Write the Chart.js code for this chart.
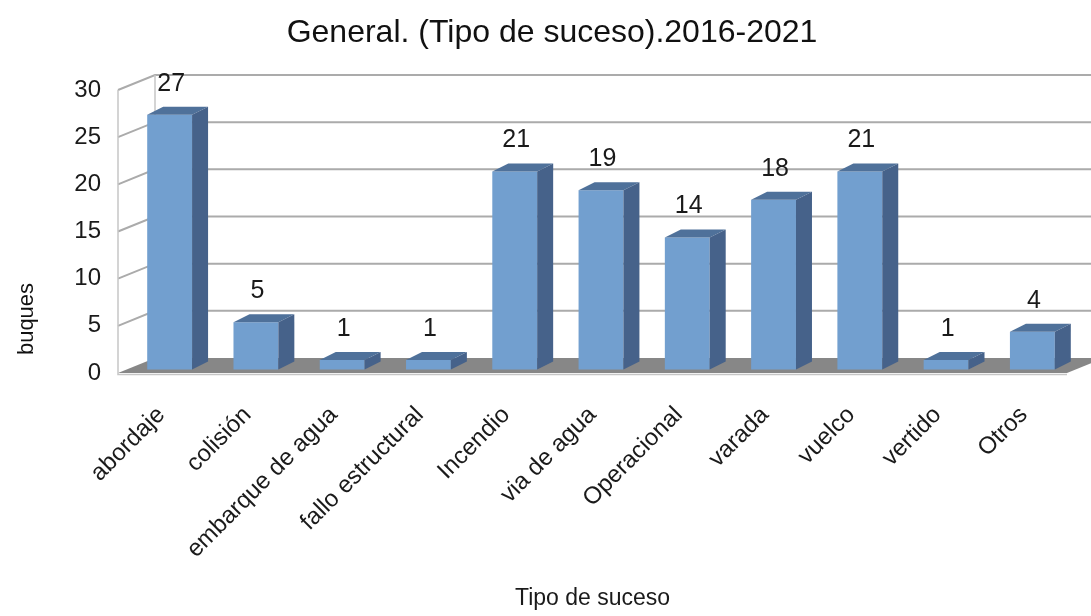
<!DOCTYPE html>
<html lang="es">
<head>
  <meta charset="UTF-8" />
  <meta name="viewport" content="width=device-width, initial-scale=1.0" />
  <script src="https://cdn.jsdelivr.net/npm/chart.js"></script>
  <title>General. (Tipo de suceso).2016-2021</title>
  <style>
    html, body { margin: 0; padding: 0; background: #fff; }
    #wrap { width: 1091px; height: 616px; }
  </style>
</head>

<body>
  <div id="wrap">
    <canvas id="sucesosChart" width="1091" height="616"></canvas>
  </div>

  <script>
    // Datos
    const tipos = ["abordaje", "colisión", "embarque de agua", "fallo estructural", "Incendio",
      "via de agua", "Operacional", "varada", "vuelco", "vertido", "Otros"];
    const buques = [27, 5, 1, 1, 21, 19, 14, 18, 21, 1, 4];
    const ejeMin = 0;
    const ejeMax = 30;
    const ejePaso = 5;
    const titulo = "General. (Tipo de suceso).2016-2021";
    const tituloY = "buques";
    const tituloX = "Tipo de suceso";

    // Profundidad del efecto 3D
    const FONDO = { dx: 37, dy: -15 };   // pared trasera respecto al plano frontal
    const BARRA = { dx: 8.5, dy: -3.5 }; // cara frontal de las barras
    const LADO = { dx: 16, dy: -8 };     // grosor de cada barra

    const FUENTE = "'Liberation Sans', Arial, sans-serif";
    Chart.defaults.font.family = FUENTE;
    Chart.defaults.color = "#1a1a1a";

    function poligono(ctx, pts) {
      ctx.beginPath();
      ctx.moveTo(pts[0][0], pts[0][1]);
      for (let i = 1; i < pts.length; i++) ctx.lineTo(pts[i][0], pts[i][1]);
      ctx.closePath();
      ctx.fill();
    }

    const escena3d = {
      id: "escena3d",
      beforeDatasetsDraw(chart) {
        const { ctx, chartArea: a, scales: { y } } = chart;
        const yTop = y.getPixelForValue(ejeMax);

        ctx.save();
        // suelo
        ctx.fillStyle = "#878787";
        poligono(ctx, [
          [a.left, a.bottom], [a.right, a.bottom],
          [a.right + FONDO.dx, a.bottom + FONDO.dy], [a.left + FONDO.dx, a.bottom + FONDO.dy]
        ]);

        // rejilla: pared izquierda + pared trasera
        ctx.strokeStyle = "#ababab";
        ctx.lineWidth = 2;
        for (let v = ejeMin + ejePaso; v <= ejeMax; v += ejePaso) {
          const py = y.getPixelForValue(v);
          ctx.beginPath();
          ctx.moveTo(a.left, py);
          ctx.lineTo(a.left + FONDO.dx, py + FONDO.dy);
          ctx.lineTo(chart.width, py + FONDO.dy);
          ctx.stroke();
        }

        // aristas verticales y borde frontal
        ctx.strokeStyle = "#c6c6c6";
        ctx.lineWidth = 1.5;
        ctx.beginPath();
        ctx.moveTo(a.left, yTop);
        ctx.lineTo(a.left, a.bottom + 1.5);
        ctx.lineTo(a.right, a.bottom + 1.5);
        ctx.moveTo(a.left + FONDO.dx, yTop + FONDO.dy);
        ctx.lineTo(a.left + FONDO.dx, a.bottom + FONDO.dy);
        ctx.stroke();
        ctx.restore();

        // las barras se dibujan desplazadas hacia el fondo
        ctx.save();
        ctx.translate(BARRA.dx, BARRA.dy);
      },
      afterDatasetsDraw(chart) {
        const { ctx } = chart;
        const meta = chart.getDatasetMeta(0);

        meta.data.forEach(bar => {
          const { x, y, base, width } = bar.getProps(["x", "y", "base", "width"], true);
          const l = x - width / 2, r = x + width / 2;
          // cara superior
          ctx.fillStyle = "#4f719a";
          poligono(ctx, [[l, y], [r, y], [r + LADO.dx, y + LADO.dy], [l + LADO.dx, y + LADO.dy]]);
          // cara lateral
          ctx.fillStyle = "#46628a";
          poligono(ctx, [[r, y], [r + LADO.dx, y + LADO.dy], [r + LADO.dx, base + LADO.dy], [r, base]]);
        });
        ctx.restore();

        // etiquetas de valor
        ctx.save();
        ctx.font = "25px " + FUENTE;
        ctx.fillStyle = "#1a1a1a";
        ctx.textAlign = "center";
        ctx.textBaseline = "middle";
        meta.data.forEach((bar, i) => {
          ctx.fillText(String(buques[i]), bar.x + BARRA.dx + 1.5, bar.y + BARRA.dy - 31);
        });
        ctx.restore();
      },
      afterDraw(chart) {
        const { ctx } = chart;
        ctx.save();
        ctx.fillStyle = "#111";
        ctx.textAlign = "center";
        ctx.textBaseline = "middle";
        // título principal
        ctx.font = "32px " + FUENTE;
        ctx.fillText(titulo, 552, 33);
        // título del eje Y
        ctx.font = "22px " + FUENTE;
        ctx.translate(27, 319);
        ctx.rotate(-Math.PI / 2);
        ctx.fillText(tituloY, 0, 0);
        ctx.restore();
      }
    };

    const ctx = document.getElementById("sucesosChart").getContext("2d");
    new Chart(ctx, {
      type: "bar",
      data: {
        labels: tipos,
        datasets: [{
          data: buques,
          backgroundColor: "#729fcf",
          borderWidth: 0,
          barPercentage: 0.52,
          categoryPercentage: 1,
          clip: false
        }]
      },
      options: {
        responsive: false,
        animation: false,
        layout: { padding: { left: 0, right: 24, top: 90, bottom: 0 } },
        plugins: {
          legend: { display: false },
          tooltip: { enabled: false },
          title: { display: false }
        },
        scales: {
          x: {
            grid: { display: false, drawTicks: false },
            border: { display: false },
            ticks: {
              font: { size: 24 },
              maxRotation: 45,
              minRotation: 45,
              autoSkip: false,
              padding: 28,
              labelOffset: 0
            },
            title: {
              display: true,
              text: tituloX,
              font: { size: 23 },
              padding: { top: 0, bottom: 4 }
            },
            afterFit(s) { s.height = 243; }
          },
          y: {
            min: ejeMin,
            max: ejeMax,
            grid: { display: false, drawTicks: false },
            border: { display: false },
            ticks: { stepSize: ejePaso, padding: 17, font: { size: 24 } },
            afterFit(s) { s.width = 118; }
          }
        }
      },
      plugins: [escena3d]
    });
  </script>
</body>
</html>
